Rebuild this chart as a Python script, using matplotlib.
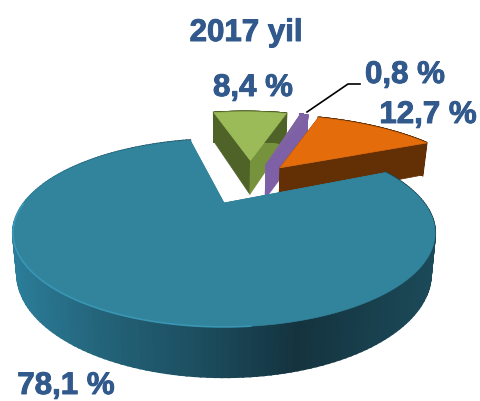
import matplotlib
matplotlib.use("Agg")
import matplotlib.pyplot as plt
import matplotlib.patheffects as pe
from matplotlib.patches import Polygon
import numpy as np

plt.rcParams['font.family'] = ['Liberation Sans', 'DejaVu Sans']

title = '2017 yil'
labels = ['78,1 %', '8,4 %', '0,8 %', '12,7 %']
values = [78.1, 8.4, 0.8, 12.7]

top_colors = ['#31849b', '#9bbb59', '#8064a2', '#e46c0a']
left_walls = ['#31849b', '#4f6228', '#7d60a5', '#632f05']
right_walls = ['#31849b', '#76923c', '#7d60a5', '#632f05']
arc_walls = ['#1c4e5f', '#4f6228', '#7d60a5', '#632f05']

# slice apex in the disc plane (u right, v towards viewer)
offsets = [(0, 0), (0.157, -0.60), (0.245, -0.53), (0.323, -0.481)]
radii = [1.0, 1.05, 1.09, 1.08]
start_angle = 66  # clockwise from the back of the disc

# where the labels sit, pixels
label_pos = [(66, 386), (253, 88), (405, 75), (428, 115)]

# perspective numbers
cx, cy = 224, 203
p = 0.319
ax_u, ax_v = 200, 84.4


def project(u, v):
    w = 1 - p * v
    return cx + ax_u * u / w, cy + ax_v * v / w


def drop(u, v):
    # same point on the underside of the disc
    x, y = project(u, v)
    w = 1 - p * v
    return cx + (x - cx) * 0.98, y + 12 + 26 / w


def wall(ax, p1, p2, color, z, lw=0.5):
    x1, y1 = project(*p1)
    x2, y2 = project(*p2)
    x3, y3 = drop(*p2)
    x4, y4 = drop(*p1)
    ax.add_patch(Polygon([(x1, y1), (x2, y2), (x3, y3), (x4, y4)], closed=True,
                         facecolor=color, edgecolor=color, linewidth=lw, zorder=z))


fig = plt.figure(figsize=(4.81, 4.01), dpi=100)
ax = fig.add_axes([0, 0, 1, 1])
ax.set_xlim(0, 481)
ax.set_ylim(401, 0)
ax.axis('off')

total = sum(values)
edges = start_angle + np.cumsum([0] + values) / total * 360

# back slices first, the big one goes over them
z = 1
for i in [1, 2, 3, 0]:
    a = np.radians(np.linspace(edges[i], edges[i + 1], 200))
    u0, v0 = offsets[i]
    us = u0 + radii[i] * np.sin(a)
    vs = v0 - radii[i] * np.cos(a)

    wall(ax, (u0, v0), (us[0], vs[0]), left_walls[i], z)
    wall(ax, (u0, v0), (us[-1], vs[-1]), right_walls[i], z)
    z += 1
    for j in range(len(us) - 1):
        if i == 0:
            mid = project(us[j], vs[j])[0]
            r = np.interp(mid, [13, 100, 200, 300, 435], [0x2b, 0x24, 0x1c, 0x14, 0x1c])
            g = np.interp(mid, [13, 100, 200, 300, 435], [0x7d, 0x64, 0x4e, 0x33, 0x4a])
            b = np.interp(mid, [13, 100, 200, 300, 435], [0x99, 0x7a, 0x5f, 0x3f, 0x59])
            color = (r / 255, g / 255, b / 255)
        else:
            color = arc_walls[i]
        wall(ax, (us[j], vs[j]), (us[j + 1], vs[j + 1]), color, z, lw=1.5)
        z += 0.001
    z = int(z) + 1

    xs, ys = project(us, vs)
    ax0, ay0 = project(u0, v0)
    ax.add_patch(Polygon(np.column_stack([np.r_[ax0, xs], np.r_[ay0, ys]]), closed=True,
                         facecolor=top_colors[i], edgecolor=top_colors[i],
                         linewidth=0.5, zorder=z))
    z += 1

    if i == 0:
        # light rim along the front left edge
        keep = (vs > 0) & (us < 0.1)
        ax.plot(xs[keep], ys[keep], color='#3c9dbd', linewidth=1.2, alpha=0.8, zorder=z)
        z += 1

# leader line for the small slice
ax.plot([307, 348, 360], [112, 84, 84], color='black', linewidth=1.2, zorder=z)

heavy = [pe.withStroke(linewidth=0.7, foreground='#31598c')]
for lab, (x, y) in zip(labels, label_pos):
    ax.text(x, y, lab, color='#31598c', fontsize=22.5, fontweight='bold',
            ha='center', va='center', zorder=z + 1, path_effects=heavy)
ax.text(246, 33, title, color='#31598c', fontsize=22.5, fontweight='bold',
        ha='center', va='center', zorder=z + 1, path_effects=heavy)

fig.savefig('out.png', dpi=100)
